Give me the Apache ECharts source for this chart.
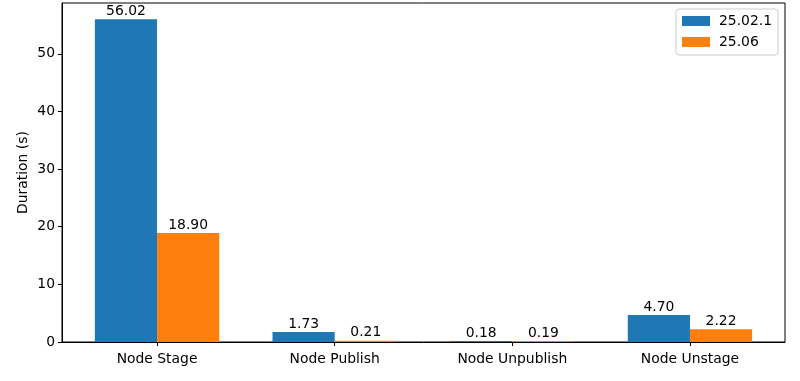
<!DOCTYPE html>
<html>
<head>
<meta charset="utf-8">
<script src="https://cdn.jsdelivr.net/npm/echarts@6/dist/echarts.min.js"></script>
<style>
html,body{margin:0;padding:0;background:#fff;}
#chart{width:800px;height:381px;}
</style>
</head>
<body>
<div id="chart"></div>
<script>
var categories = ['Node Stage', 'Node Publish', 'Node Unpublish', 'Node Unstage'];
var seriesNames = ['25.02.1', '25.06'];
var valuesA = [56.02, 1.73, 0.18, 4.70];
var valuesB = [18.90, 0.21, 0.19, 2.22];
var yTicks = [0, 10, 20, 30, 40, 50];
var colors = ['#1f77b4', '#ff7f0e'];

var FONT = 'DejaVu Sans, sans-serif';
var FS = 13.9;
var barW = 0.35;

function makeSeries(name, vals, offset, color) {
  return {
    type: 'custom',
    name: name,
    itemStyle: { color: color },
    data: vals.map(function (v, i) { return [i + offset, v]; }),
    encode: { x: 0, y: 1 },
    renderItem: function (params, api) {
      var x = api.value(0), y = api.value(1);
      var top = api.coord([x, y]);
      var base = api.coord([x, 0]);
      var w = api.size([barW, 0])[0];
      return {
        type: 'group',
        children: [
          {
            type: 'rect',
            shape: { x: top[0] - w / 2, y: top[1], width: w, height: base[1] - top[1] },
            style: { fill: color }
          },
          {
            type: 'text',
            style: {
              text: y.toFixed(2),
              x: top[0], y: top[1] - 1,
              align: 'center', verticalAlign: 'bottom',
              fontFamily: FONT, fontSize: FS, fill: '#000'
            }
          }
        ]
      };
    }
  };
}

var chart = echarts.init(document.getElementById('chart'), null, { renderer: 'canvas' });
chart.setOption({
  animation: false,
  backgroundColor: '#fff',
  grid: {
    left: 62, right: 15, top: 3, bottom: 39,
    show: true, borderColor: '#000', borderWidth: 1, backgroundColor: 'transparent'
  },
  legend: {
    data: seriesNames,
    orient: 'vertical',
    right: 22, top: 9,
    icon: 'rect',
    itemWidth: 28, itemHeight: 10,
    itemGap: 7,
    padding: [5, 6, 6, 6],
    borderColor: '#cccccc', borderWidth: 1, borderRadius: 3,
    backgroundColor: 'rgba(255,255,255,0.8)',
    textStyle: { fontFamily: FONT, fontSize: FS, color: '#000', lineHeight: 14, padding: [0, 0, 0, 4] }
  },
  xAxis: {
    type: 'value',
    min: -0.535, max: 3.535,
    splitLine: { show: false },
    axisLine: { show: true, onZero: false, lineStyle: { color: '#000' } },
    axisTick: { show: true, length: 4, lineStyle: { color: '#000' }, customValues: [0, 1, 2, 3] },
    axisLabel: {
      customValues: [0, 1, 2, 3],
      margin: 10,
      fontFamily: FONT, fontSize: FS, color: '#000',
      formatter: function (v) { return categories[Math.round(v)]; }
    }
  },
  yAxis: {
    type: 'value',
    min: 0, max: 58.82,
    name: 'Duration (s)',
    nameLocation: 'middle',
    nameGap: 32,
    nameMoveOverlap: false,
    nameTextStyle: { fontFamily: FONT, fontSize: FS, color: '#000' },
    splitLine: { show: false },
    axisLine: { show: true, onZero: false, lineStyle: { color: '#000' } },
    axisTick: { show: true, length: 4, lineStyle: { color: '#000' }, customValues: yTicks },
    axisLabel: {
      customValues: yTicks,
      margin: 7,
      fontFamily: FONT, fontSize: FS, color: '#000'
    }
  },
  series: [
    makeSeries(seriesNames[0], valuesA, -barW / 2, colors[0]),
    makeSeries(seriesNames[1], valuesB, barW / 2, colors[1])
  ]
});
</script>
</body>
</html>
